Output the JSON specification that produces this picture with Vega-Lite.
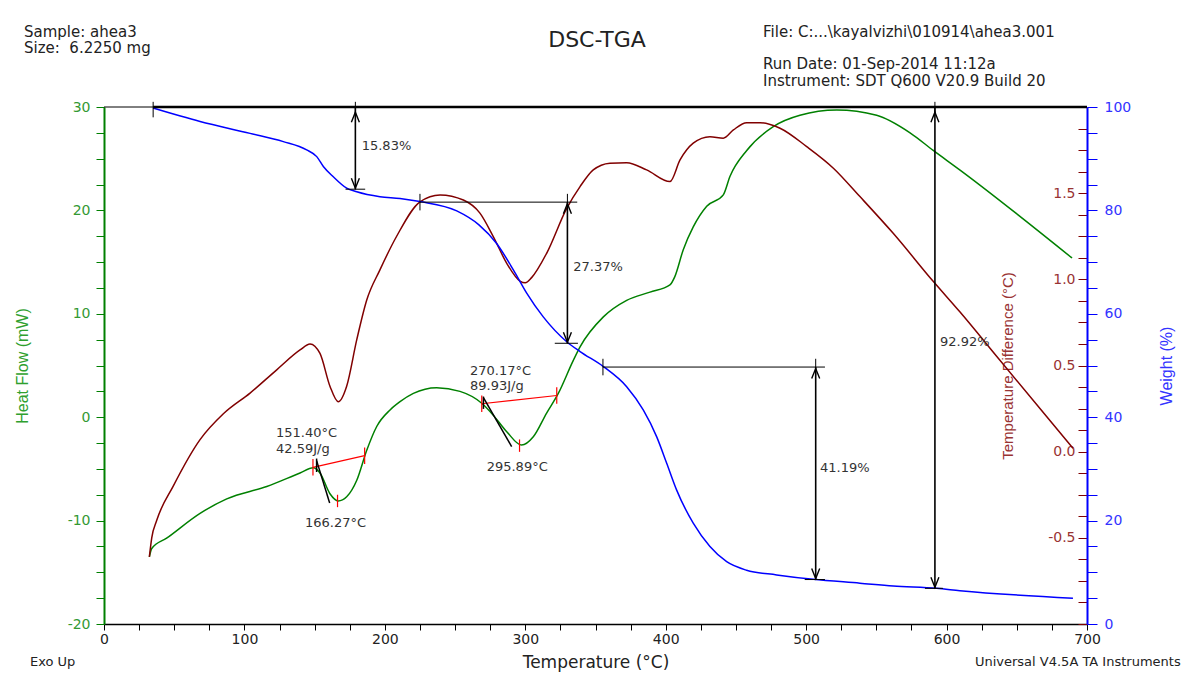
{
  "$schema": "https://vega.github.io/schema/vega-lite/v6.json",
  "width": 983,
  "height": 517,
  "autosize": {"type": "none"},
  "padding": {"left": 104, "top": 107, "right": 100, "bottom": 54},
  "background": "white",
  "config": {"view": {"stroke": null}, "font": "DejaVu Sans", "axis": {"grid": false}},
  "datasets": {
    "hf": [
      {"T": 32.3, "HF": -13.5}, {"T": 34, "HF": -12.7}, {"T": 44.6, "HF": -11.7}, {"T": 68.4, "HF": -9.3},
      {"T": 87.4, "HF": -7.9}, {"T": 115.9, "HF": -6.7}, {"T": 139.6, "HF": -5.4}, {"T": 149, "HF": -4.9},
      {"T": 153.8, "HF": -5.4}, {"T": 160.9, "HF": -7.4}, {"T": 166.8, "HF": -8.1}, {"T": 172.8, "HF": -7.7},
      {"T": 180, "HF": -6.1}, {"T": 187.1, "HF": -3.2}, {"T": 194.2, "HF": -0.9}, {"T": 203.7, "HF": 0.7},
      {"T": 210.8, "HF": 1.5}, {"T": 220.3, "HF": 2.3}, {"T": 236.9, "HF": 2.85}, {"T": 253.5, "HF": 2.5},
      {"T": 269, "HF": 1.35}, {"T": 277.2, "HF": 0.2}, {"T": 286.8, "HF": -1.4}, {"T": 297.4, "HF": -2.7},
      {"T": 305.7, "HF": -1.9}, {"T": 315.2, "HF": 0.4}, {"T": 323.5, "HF": 2.3}, {"T": 334.2, "HF": 5.5},
      {"T": 339, "HF": 6.8}, {"T": 355.6, "HF": 9.7}, {"T": 372.2, "HF": 11.3}, {"T": 388.8, "HF": 12.1},
      {"T": 403, "HF": 12.8}, {"T": 406.5, "HF": 13.6}, {"T": 412.5, "HF": 16.2}, {"T": 419.6, "HF": 18.4},
      {"T": 429.2, "HF": 20.4}, {"T": 441, "HF": 21.5}, {"T": 445.8, "HF": 23.3}, {"T": 457.7, "HF": 25.8},
      {"T": 476.6, "HF": 28.1}, {"T": 495.6, "HF": 29.2}, {"T": 521.8, "HF": 29.7}, {"T": 550.2, "HF": 29.2},
      {"T": 574, "HF": 27.5}, {"T": 590.5, "HF": 25.8}, {"T": 609.6, "HF": 23.9}, {"T": 689.3, "HF": 15.4}
    ],
    "td": [
      {"T": 32.3, "TD": -0.61}, {"T": 34, "TD": -0.5}, {"T": 37.5, "TD": -0.4}, {"T": 49.3, "TD": -0.2},
      {"T": 68.4, "TD": 0.07}, {"T": 85, "TD": 0.22}, {"T": 104, "TD": 0.34}, {"T": 123, "TD": 0.475},
      {"T": 139.6, "TD": 0.59}, {"T": 146.7, "TD": 0.625}, {"T": 153.8, "TD": 0.57}, {"T": 160.9, "TD": 0.38},
      {"T": 166.8, "TD": 0.29}, {"T": 172.8, "TD": 0.38}, {"T": 180, "TD": 0.65}, {"T": 187.1, "TD": 0.88},
      {"T": 196.5, "TD": 1.055}, {"T": 208.4, "TD": 1.25}, {"T": 225, "TD": 1.45}, {"T": 239.3, "TD": 1.49},
      {"T": 255.9, "TD": 1.46}, {"T": 267.7, "TD": 1.384}, {"T": 277.2, "TD": 1.248}, {"T": 286.8, "TD": 1.093},
      {"T": 296.2, "TD": 0.99}, {"T": 300, "TD": 0.98}, {"T": 304.5, "TD": 1.01}, {"T": 315.2, "TD": 1.151}, {"T": 329.5, "TD": 1.412},
      {"T": 339, "TD": 1.538}, {"T": 348.4, "TD": 1.635}, {"T": 360.3, "TD": 1.674}, {"T": 372.2, "TD": 1.677},
      {"T": 386.4, "TD": 1.635}, {"T": 403, "TD": 1.567}, {"T": 410.2, "TD": 1.693}, {"T": 419.6, "TD": 1.79},
      {"T": 431.5, "TD": 1.828}, {"T": 441, "TD": 1.819}, {"T": 448.2, "TD": 1.867}, {"T": 457.7, "TD": 1.909},
      {"T": 467.2, "TD": 1.909}, {"T": 481.4, "TD": 1.877}, {"T": 500.4, "TD": 1.77}, {"T": 519.4, "TD": 1.645},
      {"T": 538.3, "TD": 1.48}, {"T": 562, "TD": 1.267}, {"T": 590.3, "TD": 0.99}, {"T": 609.6, "TD": 0.81},
      {"T": 638, "TD": 0.53}, {"T": 666.5, "TD": 0.25}, {"T": 690, "TD": 0.02}
    ],
    "wt": [
      {"T": 34.9, "W": 99.8}, {"T": 68.4, "W": 97.2}, {"T": 104, "W": 94.9}, {"T": 127.7, "W": 93.3},
      {"T": 144.3, "W": 91.7}, {"T": 151.5, "W": 90.4}, {"T": 156.2, "W": 88.5}, {"T": 163.3, "W": 86.5},
      {"T": 172.8, "W": 84.3}, {"T": 180, "W": 83.6}, {"T": 196.5, "W": 82.65}, {"T": 210.8, "W": 82.3},
      {"T": 225, "W": 81.7}, {"T": 251.2, "W": 79.9}, {"T": 267, "W": 77.2}, {"T": 279.6, "W": 73.6},
      {"T": 291.5, "W": 68.5}, {"T": 301, "W": 64.0}, {"T": 312.8, "W": 59.4}, {"T": 329.5, "W": 54.6},
      {"T": 339, "W": 52.7}, {"T": 355.6, "W": 49.8}, {"T": 372.2, "W": 45.9}, {"T": 384, "W": 41.4},
      {"T": 393.6, "W": 36.2}, {"T": 400.7, "W": 31.1}, {"T": 407.8, "W": 25.9}, {"T": 419.6, "W": 19.5},
      {"T": 431.5, "W": 15.0}, {"T": 443.4, "W": 12.05}, {"T": 457.6, "W": 10.4}, {"T": 479, "W": 9.5},
      {"T": 505, "W": 8.65}, {"T": 538.3, "W": 7.9}, {"T": 562, "W": 7.35}, {"T": 593, "W": 6.9},
      {"T": 609.5, "W": 6.45}, {"T": 690, "W": 5.0}
    ],
    "dscRed": [
      {"T": 148.8, "T2": 185.6, "HF": -4.85, "HF2": -3.72},
      {"T": 269, "T2": 322.4, "HF": 1.3, "HF2": 2.1},
      {"T": 148.8, "T2": 148.8, "HF": -4.05, "HF2": -5.65},
      {"T": 185.6, "T2": 185.6, "HF": -2.92, "HF2": -4.52},
      {"T": 166.3, "T2": 166.3, "HF": -7.5, "HF2": -8.7},
      {"T": 269, "T2": 269, "HF": 2.1, "HF2": 0.5},
      {"T": 322.4, "T2": 322.4, "HF": 2.9, "HF2": 1.3},
      {"T": 295.9, "T2": 295.9, "HF": -2.15, "HF2": -3.35}
    ],
    "dscBlack": [
      {"T": 151.4, "T2": 160.7, "HF": -4.2, "HF2": -8.3},
      {"T": 270.2, "T2": 290.3, "HF": 1.9, "HF2": -2.85},
      {"T": 151.4, "T2": 151.4, "HF": -4.0, "HF2": -5.3},
      {"T": 270.2, "T2": 270.2, "HF": 2.0, "HF2": 0.8}
    ],
    "dscText": [
      {"T": 122.5, "HF": -1.5, "label": "151.40°C"},
      {"T": 122.5, "HF": -3.1, "label": "42.59J/g"},
      {"T": 143.1, "HF": -10.2, "label": "166.27°C"},
      {"T": 260.6, "HF": 4.5, "label": "270.17°C"},
      {"T": 260.6, "HF": 3.05, "label": "89.93J/g"},
      {"T": 272.5, "HF": -4.8, "label": "295.89°C"}
    ],
    "header": [
      {"T": -57, "HF": 37.28, "label": "Sample: ahea3"},
      {"T": -57, "HF": 35.68, "label": "Size:\u00a0 6.2250 mg"},
      {"T": 469.3, "HF": 37.28, "label": "File: C:...\\kayalvizhi\\010914\\ahea3.001"},
      {"T": 469.3, "HF": 34.13, "label": "Run Date: 01-Sep-2014 11:12a"},
      {"T": 469.3, "HF": 32.51, "label": "Instrument: SDT Q600 V20.9 Build 20"}
    ],
    "footer": [
      {"T": -52.7, "HF": -23.68, "label": "Exo Up"},
      {"T": 620.2, "HF": -23.68, "label": "Universal V4.5A TA Instruments"}
    ],
    "titleText": [
      {"T": 351.1, "HF": 36.48, "label": "DSC-TGA"}
    ],
    "frameTop": [
      {"T": 0, "T2": 700, "HF": 30}
    ],
    "tgaThick": [
      {"T": 35, "T2": 700, "W": 100}
    ],
    "tgaLines": [
      {"T": 172, "T2": 186, "W": 84.1, "W2": 84.1},
      {"T": 225, "T2": 337, "W": 81.6, "W2": 81.6},
      {"T": 321, "T2": 337.5, "W": 54.3, "W2": 54.3},
      {"T": 355.3, "T2": 513.4, "W": 49.7, "W2": 49.7},
      {"T": 499, "T2": 513.4, "W": 8.6, "W2": 8.6},
      {"T": 584.6, "T2": 597.4, "W": 6.9, "W2": 6.9},
      {"T": 35, "T2": 35, "W": 101, "W2": 98},
      {"T": 179, "T2": 179, "W": 101, "W2": 98.2},
      {"T": 225, "T2": 225, "W": 83.2, "W2": 80},
      {"T": 330, "T2": 330, "W": 83.2, "W2": 80},
      {"T": 355.3, "T2": 355.3, "W": 51.3, "W2": 48.1},
      {"T": 506.8, "T2": 506.8, "W": 51.3, "W2": 48.1},
      {"T": 591.7, "T2": 591.7, "W": 101, "W2": 98.2}
    ],
    "tgaArrows": [
      {"T": 179, "T2": 179, "W": 100, "W2": 84.1},
      {"T": 330, "T2": 330, "W": 81.6, "W2": 54.3},
      {"T": 506.8, "T2": 506.8, "W": 49.7, "W2": 8.6},
      {"T": 591.7, "T2": 591.7, "W": 100, "W2": 6.9}
    ],
    "headsUp": [
      {"T": 179, "W": 99}, {"T": 330, "W": 81.3}, {"T": 506.8, "W": 49.4}, {"T": 591.7, "W": 99}
    ],
    "headsDown": [
      {"T": 179, "W": 84.3}, {"T": 330, "W": 54.5}, {"T": 506.8, "W": 8.8}, {"T": 591.7, "W": 7.1}
    ],
    "tgaText": [
      {"T": 183.5, "W": 92.5, "label": "15.83%"},
      {"T": 334.2, "W": 69.1, "label": "27.37%"},
      {"T": 509.9, "W": 30.2, "label": "41.19%"},
      {"T": 595.3, "W": 54.5, "label": "92.92%"}
    ]
  },
  "encoding": {
    "x": {
      "field": "T", "type": "quantitative",
      "scale": {"domain": [0, 700], "nice": false, "zero": false},
      "axis": {
        "title": "Temperature (°C)",
        "values": [0, 25, 50, 75, 100, 125, 150, 175, 200, 225, 250, 275, 300, 325, 350, 375, 400, 425, 450, 475, 500, 525, 550, 575, 600, 625, 650, 675, 700],
        "labelExpr": "datum.value % 100 === 0 ? format(datum.value, 'd') : ''",
        "tickSize": 6, "tickColor": "#000000", "domainColor": "#000000", "domainWidth": 1.5,
        "labelFontSize": 14, "labelColor": "#222222", "labelPadding": 2,
        "labelFlush": false, "labelOverlap": false, "labelBound": false,
        "titleFontSize": 17, "titleFontWeight": "normal", "titleColor": "#222222", "titlePadding": 8
      }
    }
  },
  "layer": [
    {
      "encoding": {
        "y": {
          "field": "HF", "type": "quantitative",
          "scale": {"domain": [-20, 30], "nice": false, "zero": false},
          "axis": {
            "orient": "left",
            "title": "Heat Flow (mW)",
            "values": [-20, -17.5, -15, -12.5, -10, -7.5, -5, -2.5, 0, 2.5, 5, 7.5, 10, 12.5, 15, 17.5, 20, 22.5, 25, 27.5, 30],
            "labelExpr": "datum.value % 10 === 0 ? replace(format(datum.value, 'd'), '\u2212', '-') : ''",
            "tickSize": 8, "tickColor": "#008000", "domainColor": "#008000", "domainWidth": 2,
            "labelFontSize": 14, "labelColor": "#339933", "labelPadding": 6,
            "labelFlush": false, "labelOverlap": false, "labelBound": false,
            "titleFont": "Liberation Sans", "titleFontSize": 16, "titleFontWeight": "normal",
            "titleColor": "#2ea02e", "titlePadding": 37
          }
        }
      },
      "layer": [
        {"data": {"name": "frameTop"}, "mark": {"type": "rule", "color": "#000000", "strokeWidth": 1}, "encoding": {"x2": {"field": "T2"}}},
        {"data": {"name": "hf"}, "mark": {"type": "line", "color": "#008000", "strokeWidth": 1.5, "interpolate": "monotone"}},
        {"data": {"name": "dscRed"}, "mark": {"type": "rule", "color": "#ff0000", "strokeWidth": 1.2}, "encoding": {"x2": {"field": "T2"}, "y2": {"field": "HF2"}}},
        {"data": {"name": "dscBlack"}, "mark": {"type": "rule", "color": "#000000", "strokeWidth": 1.5}, "encoding": {"x2": {"field": "T2"}, "y2": {"field": "HF2"}}},
        {"data": {"name": "dscText"}, "mark": {"type": "text", "align": "left", "baseline": "middle", "fontSize": 13, "color": "#333333"}, "encoding": {"text": {"field": "label"}}},
        {"data": {"name": "header"}, "mark": {"type": "text", "align": "left", "baseline": "middle", "fontSize": 15, "color": "#222222"}, "encoding": {"text": {"field": "label"}}},
        {"data": {"name": "footer"}, "mark": {"type": "text", "align": "left", "baseline": "middle", "fontSize": 13, "color": "#222222"}, "encoding": {"text": {"field": "label"}}},
        {"data": {"name": "titleText"}, "mark": {"type": "text", "align": "center", "baseline": "middle", "fontSize": 22, "color": "#222222"}, "encoding": {"text": {"field": "label"}}}
      ]
    },
    {
      "encoding": {
        "y": {
          "field": "TD", "type": "quantitative",
          "scale": {"domain": [-1, 2], "nice": false, "zero": false},
          "axis": {
            "orient": "left", "offset": -983,
            "title": "Temperature Difference (°C)",
            "values": [-1, -0.875, -0.75, -0.625, -0.5, -0.375, -0.25, -0.125, 0, 0.125, 0.25, 0.375, 0.5, 0.625, 0.75, 0.875, 1, 1.125, 1.25, 1.375, 1.5, 1.625, 1.75, 1.875, 2],
            "labelExpr": "abs(datum.value * 2 - round(datum.value * 2)) < 0.001 && datum.value > -0.9 && datum.value < 1.9 ? replace(format(datum.value, '.1f'), '\u2212', '-') : ''",
            "tickSize": 9, "tickColor": "#800000", "domain": false,
            "labelFontSize": 14, "labelColor": "#993333", "labelPadding": 3,
            "labelFlush": false, "labelOverlap": false, "labelBound": false,
            "titleFont": "Liberation Sans", "titleFontSize": 15, "titleFontWeight": "normal",
            "titleColor": "#993333", "titlePadding": 32
          }
        }
      },
      "layer": [
        {"data": {"name": "td"}, "mark": {"type": "line", "color": "#800000", "strokeWidth": 1.5, "interpolate": "monotone"}}
      ]
    },
    {
      "encoding": {
        "y": {
          "field": "W", "type": "quantitative",
          "scale": {"domain": [0, 100], "nice": false, "zero": false},
          "axis": {
            "orient": "right",
            "title": "Weight (%)",
            "values": [0, 5, 10, 15, 20, 25, 30, 35, 40, 45, 50, 55, 60, 65, 70, 75, 80, 85, 90, 95, 100],
            "labelExpr": "datum.value % 20 === 0 ? format(datum.value, 'd') : ''",
            "tickSize": 10, "tickColor": "#0000ff", "domainColor": "#0000ff", "domainWidth": 2,
            "labelFontSize": 14, "labelColor": "#3333ff", "labelPadding": 7,
            "labelFlush": false, "labelOverlap": false, "labelBound": false,
            "titleFont": "Liberation Sans", "titleFontSize": 16, "titleFontWeight": "normal",
            "titleColor": "#3333ff", "titleAngle": 270, "titleBaseline": "top", "titlePadding": 28
          }
        }
      },
      "layer": [
        {"data": {"name": "wt"}, "mark": {"type": "line", "color": "#0000ff", "strokeWidth": 1.5, "interpolate": "monotone"}},
        {"data": {"name": "tgaThick"}, "mark": {"type": "rule", "color": "#000000", "strokeWidth": 2.5}, "encoding": {"x2": {"field": "T2"}}},
        {"data": {"name": "tgaLines"}, "mark": {"type": "rule", "color": "#000000", "strokeWidth": 1}, "encoding": {"x2": {"field": "T2"}, "y2": {"field": "W2"}}},
        {"data": {"name": "tgaArrows"}, "mark": {"type": "rule", "color": "#000000", "strokeWidth": 1.6}, "encoding": {"x2": {"field": "T2"}, "y2": {"field": "W2"}}},
        {"data": {"name": "headsUp"}, "mark": {"type": "point", "shape": "M-1,2.5L0,0L1,2.5", "size": 64, "filled": false, "stroke": "#000000", "strokeWidth": 1.4, "opacity": 1}},
        {"data": {"name": "headsDown"}, "mark": {"type": "point", "shape": "M-1,-2.5L0,0L1,-2.5", "size": 64, "filled": false, "stroke": "#000000", "strokeWidth": 1.4, "opacity": 1}},
        {"data": {"name": "tgaText"}, "mark": {"type": "text", "align": "left", "baseline": "middle", "fontSize": 13, "color": "#333333"}, "encoding": {"text": {"field": "label"}}}
      ]
    }
  ],
  "resolve": {"scale": {"y": "independent"}}
}
